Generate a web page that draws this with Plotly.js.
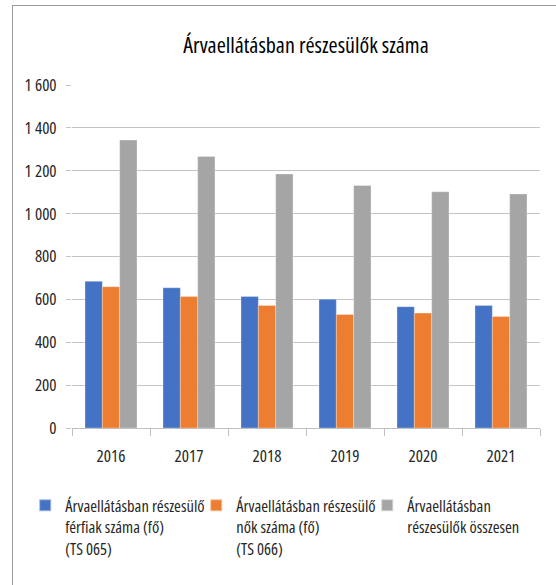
<!DOCTYPE html>
<html>
<head>
<meta charset="utf-8">
<script src="https://cdn.plot.ly/plotly-3.0.1.min.js"></script>
<style>
  html, body { margin: 0; padding: 0; background: #ffffff; }
  svg text { font-stretch: condensed !important; }
  #wrap { position: relative; width: 556px; height: 585px; overflow: hidden; }
  #frame { position: absolute; left: 12px; top: 5px; width: 600px; height: 600px;
           border-left: 1.5px solid #9a9a9a; border-top: 1.5px solid #9a9a9a; }
  #chart { position: absolute; left: 0; top: 0; width: 556px; height: 585px; }
</style>
</head>
<body>
<div id="wrap">
  <div id="frame"></div>
  <div id="chart"></div>
</div>
<script>
const years = ['2016', '2017', '2018', '2019', '2020', '2021'];
const ferfiak = [684, 654, 613, 601, 566, 572];
const nok = [659, 613, 572, 530, 536, 520];
const osszesen = [1343, 1267, 1185, 1131, 1102, 1092];
const seriesNames = [
  'Árvaellátásban részesülő<br>férfiak száma (fő)<br>(TS 065)',
  'Árvaellátásban részesülő<br>nők száma (fő)<br>(TS 066)',
  'Árvaellátásban<br>részesülők összesen'
];
const colors = ['#4472C4', '#ED7D31', '#A5A5A5'];
const yTicks = [0, 200, 400, 600, 800, 1000, 1200, 1400, 1600];
const yTickText = ['0', '200', '400', '600', '800', '1 000', '1 200', '1 400', '1 600'];
const titleText = 'Árvaellátásban részesülők száma';

const FONT = '"Open Sans", "DejaVu Sans Condensed", sans-serif';
const TXT = '#262626';

const values = [ferfiak, nok, osszesen];
const data = values.map((v, i) => ({
  type: 'bar',
  x: years,
  y: v,
  name: seriesNames[i],
  marker: { color: colors[i], line: { color: 'rgba(255,255,255,0.5)', width: 0.6 } },
  hoverinfo: 'skip'
}));

const layout = {
  width: 556,
  height: 585,
  paper_bgcolor: 'rgba(0,0,0,0)',
  plot_bgcolor: 'rgba(0,0,0,0)',
  margin: { l: 72, r: 16, t: 85, b: 157, autoexpand: false },
  font: { family: FONT, size: 17, color: TXT },
  title: {
    text: titleText,
    font: { family: FONT, size: 22, color: '#000000', weight: 500 },
    x: 0.5, xref: 'paper', xanchor: 'center',
    y: 1 - 45 / 585, yref: 'container', yanchor: 'middle'
  },
  barmode: 'group',
  bargap: 0.333,
  bargroupgap: 0,
  xaxis: {
    type: 'category', showgrid: false, showline: true, linecolor: '#BFBFBF', linewidth: 1,
    ticks: 'outside', tickson: 'boundaries', ticklen: 7, tickcolor: '#BFBFBF',
    tickfont: { family: FONT, size: 17, color: TXT }, ticklabelstandoff: 13
  },
  yaxis: {
    range: [0, 1600], tickvals: yTicks, ticktext: yTickText, showgrid: true, gridcolor: '#C4C4C4',
    gridwidth: 1, zeroline: false, showline: false, ticks: 'outside', ticklen: 5, tickcolor: '#C4C4C4',
    tickfont: { family: FONT, size: 17, color: TXT }, ticklabelstandoff: 6
  },
  showlegend: true,
  legend: {
    orientation: 'h', xref: 'paper', x: -0.1, xanchor: 'left', yref: 'paper',
    y: (428 - 488) / 343, yanchor: 'top', font: { family: FONT, size: 16.5, color: TXT },
    entrywidth: 126, itemwidth: 30, itemsizing: 'constant', valign: 'top', traceorder: 'normal'
  }
};

Plotly.newPlot('chart', data, layout, { displayModeBar: false, staticPlot: true });
</script>
</body>
</html>
